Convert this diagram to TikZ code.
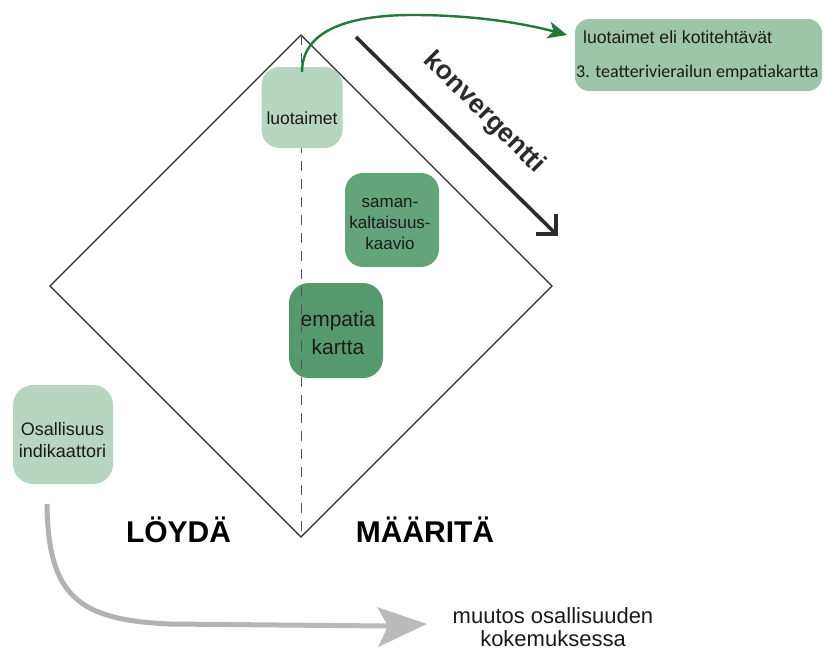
\documentclass[tikz,border=0pt]{standalone}
\usepackage{fontspec}
\setmainfont{Liberation Sans}
\newfontfamily\calib{Carlito}
\usetikzlibrary{arrows.meta}
\definecolor{boxlight}{HTML}{B6D6C1}
\definecolor{boxtop}{HTML}{9DC5A9}
\definecolor{boxmid}{HTML}{63A47B}
\definecolor{boxdark}{HTML}{559A6C}
\definecolor{arrowgreen}{HTML}{1F7A3C}
\definecolor{txtcol}{HTML}{1A1A1A}
\definecolor{graya}{HTML}{B2B2B2}
\definecolor{grayb}{HTML}{E4E4E4}
\definecolor{grayc}{HTML}{BBBBBB}
\definecolor{linecol}{HTML}{2B2B2B}
\begin{document}
\begin{tikzpicture}[x=1pt,y=-1pt,
  greenbox/.style={rounded corners=18pt, inner sep=0pt, draw=none},
  boxtext/.style={align=center, text=txtcol, inner sep=0pt},
  bigword/.style={font=\bfseries\fontsize{30}{34}\selectfont, text=black, inner sep=0pt, anchor=base},
  dashline/.style={draw=linecol!80, line width=1pt, dash pattern=on 10pt off 8pt},
  diamondline/.style={draw=linecol, line width=1.1pt, line join=miter}]
\useasboundingbox (0,0) rectangle (824,653);

% diamond
\coordinate (dtop) at (301,35);
\coordinate (dright) at (552,286);
\coordinate (dbottom) at (301,537);
\coordinate (dleft) at (50,286);
\draw[diamondline] (dtop) -- (dright) -- (dbottom) -- (dleft) -- cycle;

% boxes inside diamond
\node[greenbox, fill=boxmid, minimum width=94pt, minimum height=94pt] (saman) at (392,220) {};
\node[boxtext, font=\fontsize{17}{21}\selectfont] (samantext) at (390,224) {saman-\\kaltaisuus-\\kaavio};
\node[greenbox, fill=boxdark, minimum width=94pt, minimum height=95pt, rounded corners=20pt] (empatia) at (336,330.5) {};
\node[boxtext, font=\fontsize{21}{28}\selectfont] (empatiatext) at (338,333) {empatia\\kartta};

% dashed axis
\draw[dashline] (dtop) -- (dbottom);

\node[greenbox, fill=boxlight, minimum width=81pt, minimum height=81pt] (luotaimet) at (302,107.5) {};
\node[boxtext, font=\fontsize{17.5}{21}\selectfont] (luotaimettext) at (302,118) {luotaimet};

% top right box
\node[greenbox, fill=boxtop, minimum width=247pt, minimum height=72pt, rounded corners=14pt] (homework) at (698.5,55) {};
\node[boxtext, anchor=west, font=\fontsize{17.6}{20}\selectfont] (hwone) at (583,37) {luotaimet eli kotitehtävät};
\node[boxtext, anchor=west, font=\calib\fontsize{18}{21}\selectfont] (hwtwo) at (576,73) {3. teatterivierailun empatiakartta};

% green arrow
\coordinate (gstart) at (302,72);
\coordinate (gtop) at (413,15);
\coordinate (gend) at (567,35);
\draw[arrowgreen, line width=2.4pt, -{Stealth[length=19pt, width=17pt, inset=5pt]}]
  (gstart) .. controls (302,32) and (345,15) .. (gtop)
           .. controls (480,15) and (530,25) .. (gend);

% konvergentti arrow
\coordinate (kstart) at (356,37);
\coordinate (kend) at (556,234);
\draw[linecol, line width=3.6pt] (kstart) -- (kend);
\draw[linecol, line width=3.6pt, line join=miter] (kend) ++(-20,0) -- (kend) -- ++(0,-20);
\node[font=\bfseries\fontsize{26.5}{30}\selectfont, text=linecol, rotate=-45, inner sep=0pt] (konv) at (484,113) {konvergentti};

% Osallisuus box
\node[greenbox, fill=boxlight, minimum width=100pt, minimum height=99pt, rounded corners=20pt] (osallisuus) at (63,434.5) {};
\node[boxtext, font=\fontsize{18}{22}\selectfont] (osaltext) at (62.5,440) {Osallisuus\\indikaattori};

% phase words
\node[bigword] (loyda) at (178.5,542) {LÖYDÄ};
\node[bigword] (maarita) at (425,542) {MÄÄRITÄ};

% gray arrow
\coordinate (gaStart) at (47,504);
\coordinate (gaBend) at (170,624);
\coordinate (gaHead) at (388,626);
\coordinate (gaTip) at (427,624);
\draw[graya, line width=5pt] (gaStart) .. controls (48,598) and (80,620) .. (gaBend);
\shade[left color=graya, middle color=grayb, right color=grayc]
  (170,621.5) -- (388,623.5) -- (388,628.5) -- (170,626.5) -- cycle;
\fill[grayc] (377,607) -- (gaTip) -- (378,647) -- (gaHead) -- cycle;

\node[boxtext, font=\fontsize{22}{23}\selectfont] (muutos) at (553,627) {muutos osallisuuden\\kokemuksessa};
\end{tikzpicture}
\end{document}
